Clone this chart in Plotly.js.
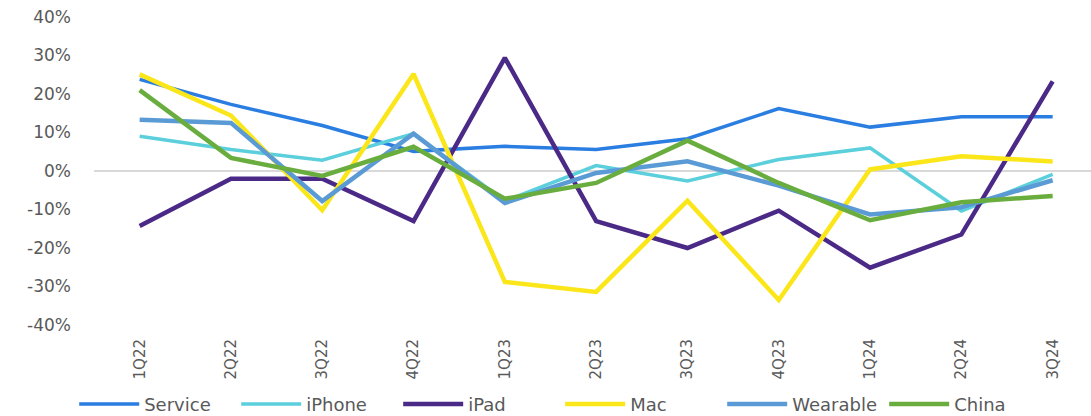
<!DOCTYPE html>
<html>
<head>
<meta charset="utf-8">
<script src="https://cdn.plot.ly/plotly-3.0.1.min.js"></script>
<style>
  html, body { margin: 0; padding: 0; background: #fff; }
  #chart { width: 1091px; height: 416px; }
</style>
</head>
<body>
<div id="chart"></div>
<script>
// quarters on the x axis
var quarters = ['1Q22', '2Q22', '3Q22', '4Q22', '1Q23', '2Q23', '3Q23', '4Q23', '1Q24', '2Q24', '3Q24'];

// growth rates, %
var service  = [23.8, 17.3, 11.8, 5.1, 6.4, 5.6, 8.4, 16.2, 11.4, 14.1, 14.1];
var iphone   = [9.0, 5.6, 2.8, 9.7, -7.8, 1.4, -2.6, 3.0, 6.0, -10.4, -0.9];
var ipad     = [-14.3, -2.0, -2.0, -13.0, 29.4, -13.0, -20.0, -10.3, -25.1, -16.5, 23.3];
var mac      = [25.1, 14.4, -10.2, 25.2, -28.8, -31.4, -7.7, -33.5, 0.4, 3.8, 2.5];
var wearable = [13.3, 12.5, -7.8, 9.7, -8.3, -0.5, 2.5, -3.8, -11.3, -9.4, -2.4];
var china    = [21.0, 3.4, -1.3, 6.3, -7.2, -3.1, 7.9, -3.1, -12.8, -8.1, -6.5];

var yTicks = [40, 30, 20, 10, 0, -10, -20, -30, -40];

function line(name, y, color, width) {
  return {
    x: quarters,
    y: y,
    name: name,
    type: 'scatter',
    mode: 'lines',
    line: {color: color, width: width}
  };
}

var data = [
  line('Service', service, '#2a7de1', 3.5),
  line('iPhone', iphone, '#5bcfdc', 3.5),
  line('iPad', ipad, '#4b2a87', 4.5),
  line('Mac', mac, '#fbe61a', 4.5),
  line('Wearable', wearable, '#5b9bd5', 4.5),
  line('China', china, '#6aad3f', 4.5)
];

var layout = {
  width: 1091,
  height: 416,
  margin: {l: 94, r: 0, t: 17, b: 91, pad: 0},
  paper_bgcolor: '#ffffff',
  plot_bgcolor: '#ffffff',
  font: {family: 'DejaVu Sans, sans-serif', color: '#595959', size: 16},
  showlegend: true,
  legend: {
    orientation: 'h',
    xref: 'container',
    yref: 'container',
    x: 0.068,
    xanchor: 'left',
    y: 0.028,
    yanchor: 'middle',
    font: {size: 18, color: '#595959'},
    itemwidth: 60,
    entrywidth: 87,
    tracegroupgap: 0
  },
  xaxis: {
    type: 'category',
    range: [-0.5, 10.42],
    showgrid: false,
    zeroline: false,
    showline: false,
    ticks: '',
    tickangle: -90,
    tickfont: {size: 15, color: '#595959'},
    ticklabelstandoff: 10
  },
  yaxis: {
    range: [-40, 40],
    tickvals: yTicks,
    ticktext: yTicks.map(function (v) { return v + '%'; }),
    showgrid: false,
    zeroline: true,
    zerolinecolor: '#d9d9d9',
    zerolinewidth: 1.5,
    showline: false,
    ticks: '',
    tickfont: {size: 17, color: '#595959'},
    ticklabelstandoff: 22
  }
};

Plotly.newPlot('chart', data, layout, {displayModeBar: false, staticPlot: true});
</script>
</body>
</html>
